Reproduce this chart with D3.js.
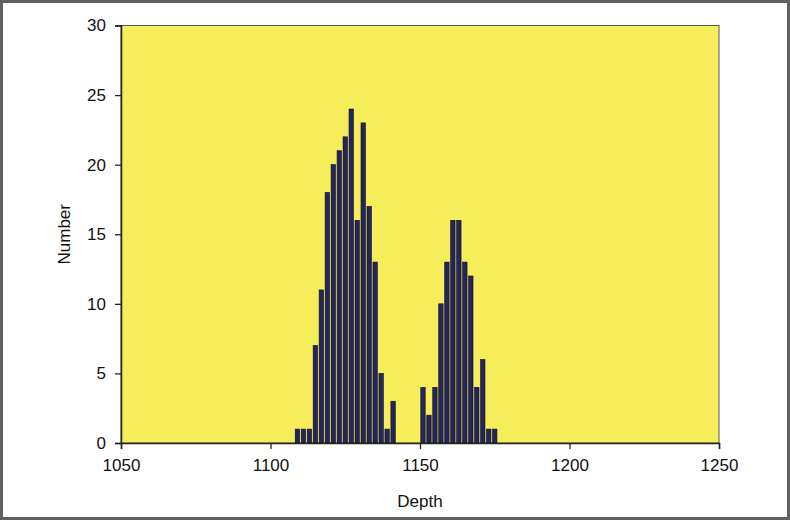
<!DOCTYPE html>
<html><head><meta charset="utf-8">
<script src="https://cdn.jsdelivr.net/npm/d3@7"></script>
<style>
html,body{margin:0;padding:0;background:#fff;}
svg{display:block;}
text{font-family:"Liberation Sans",Arial,sans-serif;fill:#111;}
</style></head>
<body>
<svg id="c" width="790" height="520"></svg>
<script>
const depths = [1109,1111,1113,1115,1117,1119,1121,1123,1125,1127,1129,1131,1133,1135,1137,1139,1141,1143,1145,1147,1149,1151,1153,1155,1157,1159,1161,1163,1165,1167,1169,1171,1173,1175];
const counts = [1,1,1,7,11,18,20,21,22,24,16,23,17,13,5,1,3,0,0,0,0,4,2,4,10,13,16,16,13,12,4,6,1,1];
const xTicks = [1050,1100,1150,1200,1250];
const yTicks = [0,5,10,15,20,25,30];
const xTitle = "Depth";
const yTitle = "Number";

const svg = d3.select("#c");
const W = 790, H = 520;
const L = 121, R = 719, T = 25.5, B = 443;

svg.append("rect").attr("x",1.5).attr("y",1.5).attr("width",W-3).attr("height",H-3)
  .attr("fill","#fff").attr("stroke","#606060").attr("stroke-width",3);

const x = d3.scaleLinear().domain([1050,1250]).range([L,R]);
const y = d3.scaleLinear().domain([0,30]).range([B,T]);

svg.append("rect").attr("x",L).attr("y",T).attr("width",R-L).attr("height",B-T)
  .attr("fill","#f5ed5a").attr("stroke","#555").attr("stroke-width",1);

const data = depths.map((d,i)=>({d, v:counts[i]})).filter(o=>o.v>0);
const bw = x(1052)-x(1050)-1.6;
svg.append("g").selectAll("rect").data(data).join("rect")
  .attr("x", o => x(o.d) - bw/2)
  .attr("y", o => y(o.v))
  .attr("width", bw)
  .attr("height", o => y(0)-y(o.v))
  .attr("fill","#24245e").attr("stroke","#0a0a20").attr("stroke-width",0.6);

const xa = svg.append("g").attr("transform",`translate(0,${B})`)
  .call(d3.axisBottom(x).tickValues(xTicks).tickFormat(d3.format("d")).tickSize(6).tickPadding(10));
const ya = svg.append("g").attr("transform",`translate(${L},0)`)
  .call(d3.axisLeft(y).tickValues(yTicks).tickSize(6).tickPadding(9));
[xa,ya].forEach(a=>{
  a.select(".domain").attr("stroke","#222").attr("stroke-width",1.5);
  a.selectAll(".tick line").attr("stroke","#222").attr("stroke-width",1.3);
  a.selectAll("text").style("font-size","17px").attr("fill","#111");
});

svg.append("text").attr("x",(L+R)/2).attr("y",507).attr("text-anchor","middle")
  .style("font-size","17px").text(xTitle);
svg.append("text").attr("transform",`translate(70,${(T+B)/2}) rotate(-90)`)
  .attr("text-anchor","middle").style("font-size","17px").text(yTitle);
</script>
</body></html>
